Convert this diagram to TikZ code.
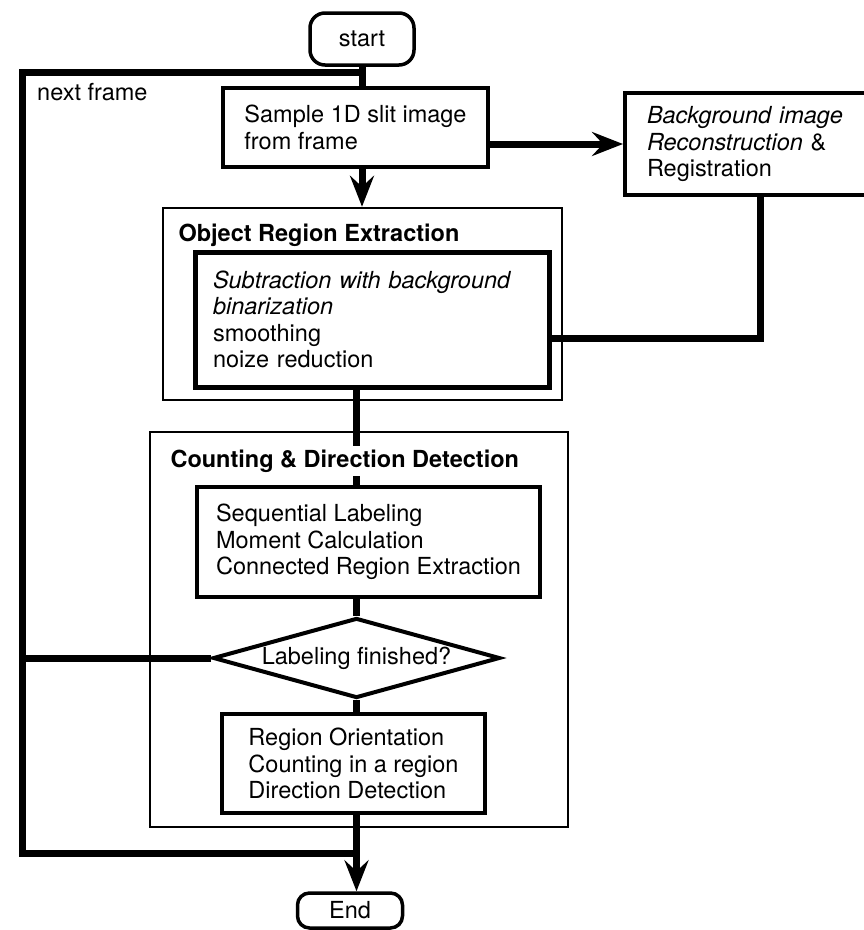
\documentclass[tikz,border=0pt]{standalone}
\usepackage{fontspec}
\setmainfont{TeX Gyre Heros}
\usetikzlibrary{calc,shapes,arrows.meta}

\newcommand{\chartfont}{\fontsize{23.5}{26.3}\selectfont}

\tikzset{
	box/.style={draw, line width=4pt, align=left},
	thinbox/.style={draw, line width=2.5pt},
	term/.style={draw, line width=3.5pt, rounded corners=15pt},
	title/.style={font=\chartfont\bfseries, anchor=base west},
	flow/.style={line width=7pt},
	flowarrow/.style={-{Stealth[length=31pt,width=24pt,inset=11pt]}}
}

\begin{document}
\begin{tikzpicture}[x=1pt, y=-1pt, font=\chartfont]
		\useasboundingbox (0, 0) rectangle (863, 930);

		\draw (362, 39) node[term, minimum width=104pt, minimum height=52pt] (start) {start};
		\draw (355.5, 127.5) node[box, minimum width=265pt, minimum height=79pt] (sample) {Sample 1D slit image\\from frame};
		\draw (760, 144) node[box, inner xsep=22pt, text width=226pt, minimum height=102pt] (bg) {\textit{Background image}\\\textit{Reconstruction} \&\\Registration};

		\draw (362.5, 304) node[thinbox, minimum width=399pt, minimum height=192pt] (objbox) {};
		\draw (175, 241) node[title] (objtitle) {Object Region Extraction};
		\draw (372, 319.5) node[box, line width=5pt, inner xsep=18pt, text width=318pt, minimum height=135pt] (inner) {\textit{Subtraction with background}\\\textit{binarization}\\smoothing\\noize reduction};

		\draw (359, 629.5) node[thinbox, minimum width=418pt, minimum height=395pt] (cntbox) {};
		\draw (167, 467.5) node[title] (cnttitle) {Counting \& Direction Detection};
		\draw (368.5, 542) node[box, minimum width=343pt, minimum height=110pt] (seq) {Sequential Labeling\\Moment Calculation\\Connected Region Extraction};
		\draw (356.5, 658) node[draw, line width=4pt, shape=diamond, shape aspect=4, inner sep=0pt, minimum width=287pt, minimum height=80pt] (dia) {Labeling finished?};
		\draw (353.5, 763.5) node[box, minimum width=263pt, minimum height=99pt] (region) {Region Orientation\\Counting in a region\\Direction Detection};

		\draw (350, 910.5) node[term, rounded corners=12pt, minimum width=105pt, minimum height=35pt] (stop) {End};

		\draw (37, 100) node[anchor=base west, inner sep=0pt] (nextlbl) {next frame};
		\coordinate (nf) at (22, 72);
		\coordinate (nb) at (22, 853);

		\draw[flow] (start.south) -- (start.south |- sample.north);
		\draw[flow, flowarrow] (sample.south -| start.south) -- (objbox.north -| start.south);
		\draw[flow, flowarrow] (sample.east |- bg.west) -- (bg.west);
		\draw[flow] (bg.south) |- ([yshift=-18.5pt]inner.east);
		\draw[flow] (inner.south -| dia.north) -- (cnttitle.north -| dia.north);
		\draw[flow] (cnttitle.south -| dia.north) -- (seq.north -| dia.north);
		\draw[flow] (seq.south -| dia.north) -- (dia.north);
		\draw[flow] (dia.south) -- (dia.south |- region.north);
		\draw[flow, flowarrow] (region.south -| dia.south) -- (stop.north -| dia.south);

		\draw[flow] (nb -| dia.south) -- (nb) -- (nf) -- (nf -| start.south);
		\draw[flow] (dia.west) -- (dia.west -| nf);

	\end{tikzpicture}
\end{document}
